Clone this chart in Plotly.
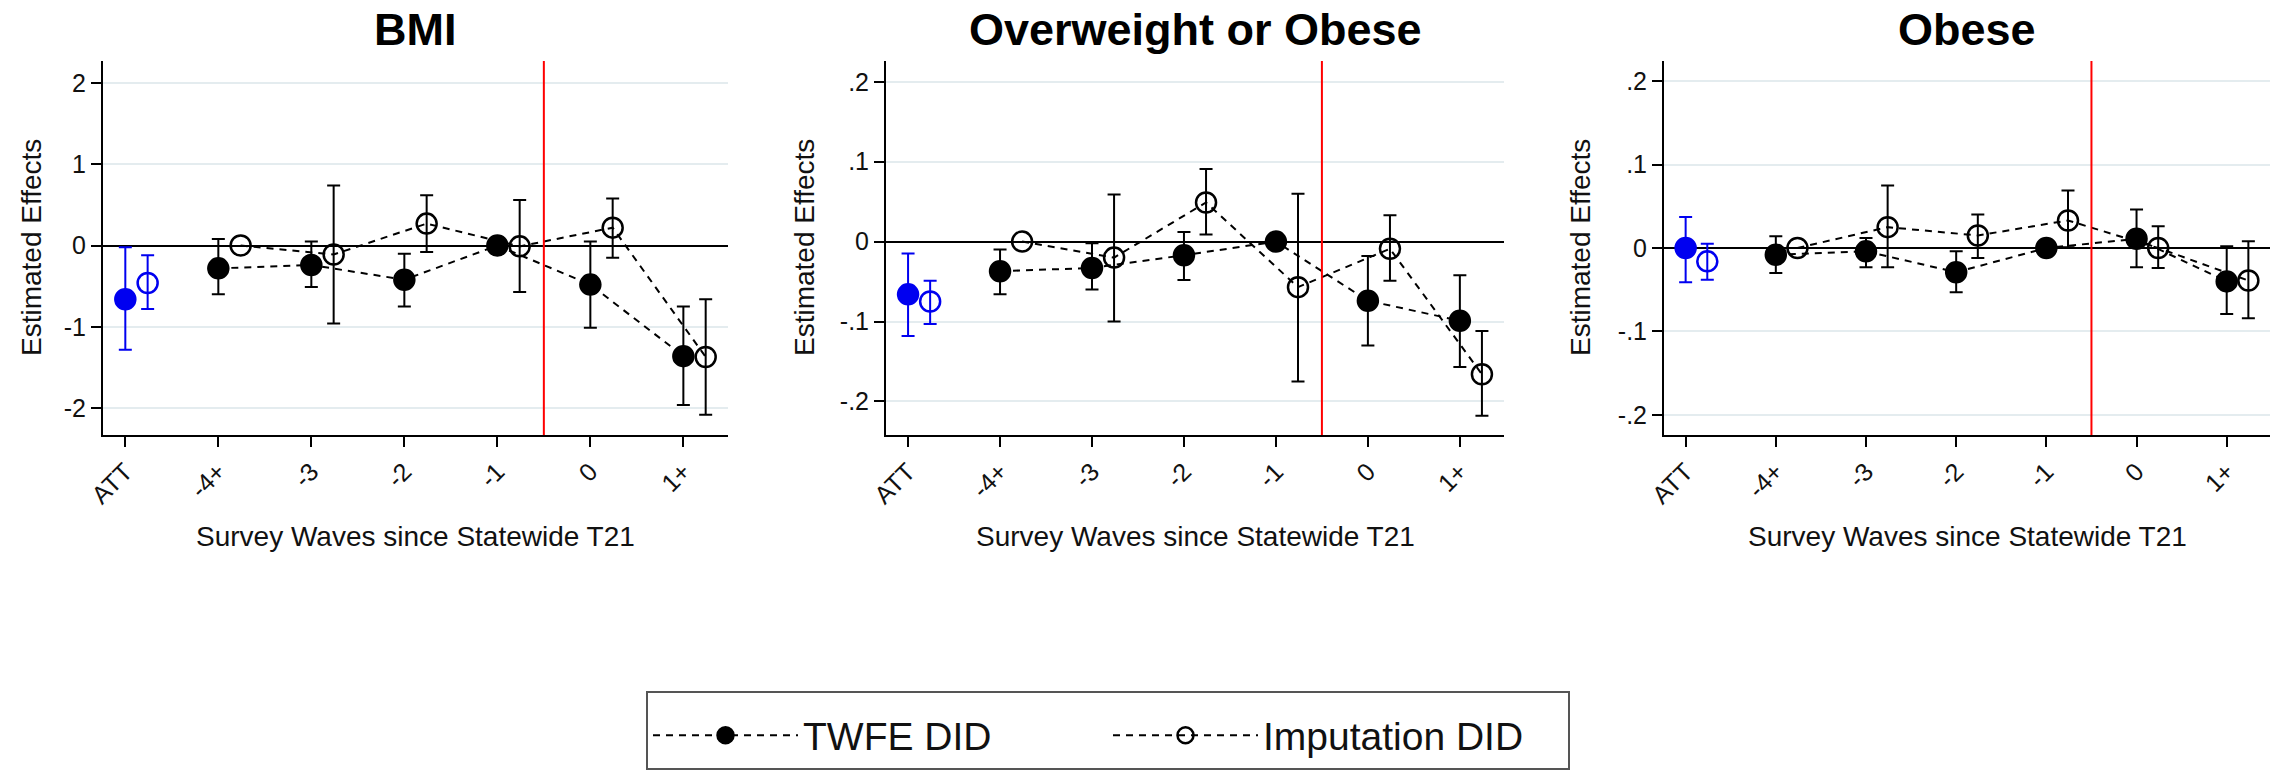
import plotly.graph_objects as go

# ---------------- data ----------------
categories = ["ATT", "-4+", "-3", "-2", "-1", "0", "1+"]
panel_titles = ["BMI", "Overweight or Obese", "Obese"]
x_title = "Survey Waves since Statewide T21"
y_title = "Estimated Effects"
series_names = ["TWFE DID", "Imputation DID"]

bmi_yticks = [-2, -1, 0, 1, 2]
bmi_yticklabels = ["-2", "-1", "0", "1", "2"]
share_yticks = [-0.2, -0.1, 0, 0.1, 0.2]
share_yticklabels = ["-.2", "-.1", "0", ".1", ".2"]

# BMI (first element = ATT)
bmi_twfe_est = [-0.66, -0.28, -0.24, -0.42, 0.00, -0.48, -1.36]
bmi_twfe_lo = [-1.28, -0.60, -0.51, -0.75, None, -1.01, -1.96]
bmi_twfe_hi = [-0.02, 0.08, 0.05, -0.10, None, 0.05, -0.75]
bmi_imp_est = [-0.46, 0.00, -0.11, 0.27, -0.01, 0.22, -1.37]
bmi_imp_lo = [-0.78, None, -0.96, -0.08, -0.57, -0.15, -2.08]
bmi_imp_hi = [-0.12, None, 0.74, 0.62, 0.56, 0.58, -0.66]

# Overweight or Obese
ow_twfe_est = [-0.066, -0.037, -0.033, -0.017, 0.000, -0.074, -0.099]
ow_twfe_lo = [-0.118, -0.066, -0.060, -0.048, None, -0.130, -0.157]
ow_twfe_hi = [-0.015, -0.010, -0.002, 0.012, None, -0.018, -0.042]
ow_imp_est = [-0.075, 0.000, -0.020, 0.049, -0.057, -0.009, -0.166]
ow_imp_lo = [-0.103, None, -0.100, 0.009, -0.175, -0.049, -0.218]
ow_imp_hi = [-0.049, None, 0.059, 0.091, 0.060, 0.033, -0.112]

# Obese
ob_twfe_est = [0.000, -0.008, -0.004, -0.029, 0.000, 0.011, -0.040]
ob_twfe_lo = [-0.041, -0.030, -0.023, -0.053, None, -0.023, -0.079]
ob_twfe_hi = [0.037, 0.014, 0.012, -0.004, None, 0.046, 0.002]
ob_imp_est = [-0.016, 0.000, 0.025, 0.015, 0.033, 0.000, -0.039]
ob_imp_lo = [-0.038, None, -0.023, -0.012, 0.001, -0.024, -0.084]
ob_imp_hi = [0.005, None, 0.075, 0.040, 0.069, 0.026, 0.008]

# ---------------- style ----------------
W, H = 2277, 774
FONT = "Arial, Liberation Sans, sans-serif"
IMP_OFFSET = 0.24
BLUE = "#0000F0"
GRID = "#E4ECEF"

panels = [
    dict(title=panel_titles[0], data=(bmi_twfe_est, bmi_twfe_lo, bmi_twfe_hi, bmi_imp_est, bmi_imp_lo, bmi_imp_hi),
         yticks=bmi_yticks, ylabels=bmi_yticklabels, yrange=[-2.33, 2.27], px=(103, 728), ytitle_off=72),
    dict(title=panel_titles[1], data=(ow_twfe_est, ow_twfe_lo, ow_twfe_hi, ow_imp_est, ow_imp_lo, ow_imp_hi),
         yticks=share_yticks, ylabels=share_yticklabels, yrange=[-0.242, 0.226], px=(886, 1504), ytitle_off=82),
    dict(title=panel_titles[2], data=(ob_twfe_est, ob_twfe_lo, ob_twfe_hi, ob_imp_est, ob_imp_lo, ob_imp_hi),
         yticks=share_yticks, ylabels=share_yticklabels, yrange=[-0.224, 0.224], px=(1664, 2270), ytitle_off=84),
]
PLOT_TOP, PLOT_BOT = 61, 435

fig = go.Figure()
positions = list(range(len(categories)))
treat_pos = (categories.index("-1") + categories.index("0")) / 2

annotations = []
shapes = []
layout_axes = {}

for k, p in enumerate(panels, start=1):
    xa = "x" if k == 1 else f"x{k}"
    ya = "y" if k == 1 else f"y{k}"
    twfe_est, twfe_lo, twfe_hi, imp_est, imp_lo, imp_hi = p["data"]
    series = [
        (twfe_est, twfe_lo, twfe_hi, positions, "circle", 20, series_names[0]),
        (imp_est, imp_lo, imp_hi, [q + IMP_OFFSET for q in positions], "circle-open", 20, series_names[1]),
    ]
    for est, lo, hi, xs, sym, size, name in series:
        # ATT (blue)
        fig.add_trace(go.Scatter(
            x=[xs[0]], y=[est[0]], mode="markers", xaxis=xa, yaxis=ya, showlegend=False,
            marker=dict(symbol=sym, size=size, color=BLUE, line=dict(width=2.5, color=BLUE)),
            error_y=dict(type="data", symmetric=False, array=[hi[0] - est[0]], arrayminus=[est[0] - lo[0]],
                         color=BLUE, thickness=2, width=6.5),
        ))
        # event-time error bars (only where CI exists)
        idx = [i for i in range(1, len(est)) if lo[i] is not None]
        fig.add_trace(go.Scatter(
            x=[xs[i] for i in idx], y=[est[i] for i in idx], mode="markers", xaxis=xa, yaxis=ya,
            showlegend=False, marker=dict(size=1, color="rgba(0,0,0,0)"),
            error_y=dict(type="data", symmetric=False, array=[hi[i] - est[i] for i in idx],
                         arrayminus=[est[i] - lo[i] for i in idx], color="black", thickness=2, width=6.5),
        ))
        # event-time dashed connected markers
        fig.add_trace(go.Scatter(
            x=xs[1:], y=est[1:], mode="lines+markers", xaxis=xa, yaxis=ya, name=name,
            showlegend=(k == 1), line=dict(color="black", width=2, dash="7px,6px"),
            marker=dict(symbol=sym, size=size, color="black", line=dict(width=2.5, color="black")),
        ))

    x0, x1 = p["px"]
    layout_axes["xaxis" if k == 1 else f"xaxis{k}"] = dict(
        domain=[x0 / W, x1 / W], anchor=ya, range=[-0.24, 6.48], automargin=False,
        tickmode="array", tickvals=positions, ticktext=categories, tickangle=-45,
        tickfont=dict(family=FONT, size=25, color="#111"),
        showline=True, linecolor="black", linewidth=2, ticks="outside", ticklen=10, tickwidth=2,
        tickcolor="black", showgrid=False, zeroline=False, fixedrange=True,
    )
    layout_axes["yaxis" if k == 1 else f"yaxis{k}"] = dict(
        domain=[1 - PLOT_BOT / H, 1 - PLOT_TOP / H], anchor=xa, range=p["yrange"], automargin=False,
        tickmode="array", tickvals=p["yticks"], ticktext=p["ylabels"],
        tickfont=dict(family=FONT, size=25, color="#111"),
        showline=True, linecolor="black", linewidth=2, ticks="outside", ticklen=10, tickwidth=2,
        tickcolor="black", showgrid=True, gridcolor=GRID, gridwidth=2,
        zeroline=True, zerolinecolor="black", zerolinewidth=2, fixedrange=True,
    )
    # treatment onset line
    shapes.append(dict(type="line", xref=xa, yref=f"{ya} domain", x0=treat_pos, x1=treat_pos, y0=0, y1=1,
                       line=dict(color="red", width=2)))
    # titles
    annotations.append(dict(text=f"<b>{p['title']}</b>", xref=f"{xa} domain", yref="paper", x=0.5,
                            y=1 - 29 / H, xanchor="center", yanchor="middle", showarrow=False,
                            font=dict(family=FONT, size=45, color="black")))
    annotations.append(dict(text=x_title, xref=f"{xa} domain", yref="paper", x=0.5, y=1 - 536 / H,
                            xanchor="center", yanchor="middle", showarrow=False,
                            font=dict(family=FONT, size=28, color="#111")))
    annotations.append(dict(text=y_title, xref="paper", yref=f"{ya} domain", x=(x0 - p["ytitle_off"]) / W, y=0.5,
                            xanchor="center", yanchor="middle", textangle=-90, showarrow=False,
                            font=dict(family=FONT, size=28, color="#111")))

fig.update_layout(
    template="none",
    font=dict(family=FONT, color="#111"),
    width=W, height=H, autosize=False, margin=dict(l=0, r=0, t=0, b=0, pad=0),
    paper_bgcolor="white", plot_bgcolor="white",
    showlegend=True,
    legend=dict(orientation="h", x=646 / W, y=1 - 691 / H, xanchor="left", yanchor="top",
                bordercolor="#555", borderwidth=2, bgcolor="white",
                font=dict(family=FONT, size=39, color="#111"),
                entrywidth=300, entrywidthmode="pixels", itemwidth=145,
                title=dict(text=" ", side="top", font=dict(size=8))),
    annotations=annotations, shapes=shapes,
    **layout_axes,
)

fig.write_html("out.html", config={"displayModeBar": False},
               post_script="document.body.style.margin='0px';document.body.style.overflow='hidden';")
